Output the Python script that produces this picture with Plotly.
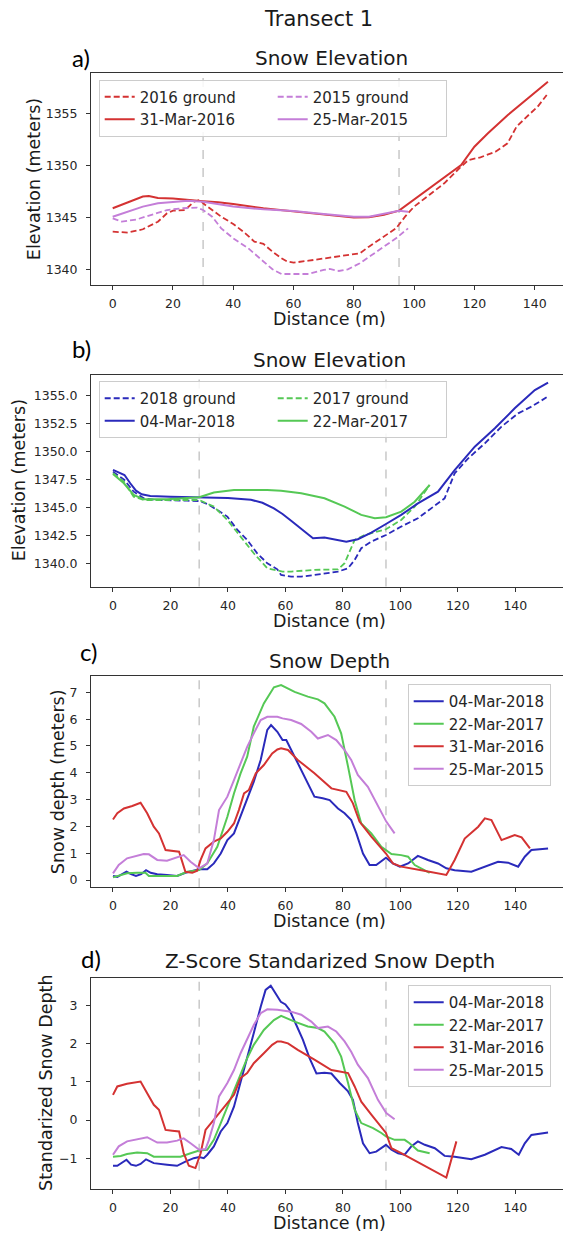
import plotly.graph_objects as go

# ---------------- Panel a: snow / ground elevation, 2016 & 2015 ----------------
ground16_x = [0, 5, 10, 15, 18, 20, 24, 27, 29, 30, 33, 36, 40, 44, 47, 50, 53, 56, 58, 60, 65, 70, 75, 80, 82,
              85, 90, 94, 97, 100, 105, 110, 115, 118, 122, 127, 131, 134, 138, 141, 144]
ground16_y = [1343.62, 1343.53, 1343.85, 1344.58, 1345.38, 1345.64, 1345.70, 1346.50, 1346.67, 1346.35, 1345.70,
              1345.06, 1344.36, 1343.46, 1342.66, 1342.44, 1341.70, 1341.06, 1340.74, 1340.64, 1340.83, 1341.06,
              1341.28, 1341.47, 1341.54, 1342.18, 1343.14, 1343.94, 1345.06, 1346.03, 1347.15, 1348.27, 1349.71,
              1350.51, 1350.77, 1351.31, 1352.12, 1353.72, 1354.84, 1355.64, 1356.76]

ground15_x = [0, 3, 8, 13, 18, 23, 28, 30, 33, 36, 40, 45, 50, 53, 56, 60, 65, 70, 72, 75, 78, 82, 86, 90, 94, 98]
ground15_y = [1344.90, 1344.58, 1344.80, 1345.22, 1345.70, 1345.87, 1345.93, 1345.70, 1345.06, 1343.94, 1342.98,
              1342.02, 1340.74, 1340.00, 1339.55, 1339.52, 1339.55, 1339.94, 1340.03, 1339.84, 1340.00, 1340.58,
              1341.38, 1342.18, 1342.98, 1343.94]

snow16_x = [0, 5, 10, 12, 15, 20, 25, 30, 35, 40, 50, 60, 70, 80, 85, 90, 95, 100.1, 105.6, 111.2, 115.6, 120,
            124.5, 131.1, 140.1, 144.4]
snow16_y = [1345.87, 1346.45, 1347.00, 1347.05, 1346.85, 1346.80, 1346.65, 1346.55, 1346.44, 1346.28, 1345.87,
            1345.55, 1345.30, 1344.97, 1345.00, 1345.25, 1345.64, 1346.73, 1347.95, 1349.07, 1350.03, 1351.79,
            1353.08, 1354.84, 1356.99, 1358.04]

snow15_x = [0, 5, 10, 15, 20, 25, 30, 35, 40, 50, 60, 70, 80, 85, 90, 95, 98]
snow15_y = [1345.06, 1345.54, 1346.03, 1346.35, 1346.50, 1346.60, 1346.50, 1346.25, 1346.03, 1345.77, 1345.61,
            1345.32, 1345.06, 1345.06, 1345.32, 1345.64, 1345.54]

# ---------------- Panel b: snow / ground elevation, 2018 & 2017 ----------------
ground18_x = [0, 4, 7.2, 10.7, 15.4, 20, 25.8, 30, 32.8, 36.3, 39.8, 43.3, 46.7, 50.2, 53.7, 57.2, 58.5, 62, 65.5,
              70.1, 74.8, 78.3, 81.8, 84.1, 86.4, 89.9, 95, 100.3, 106.1, 112, 115.4, 118.9, 123.6, 129.4, 135.2,
              141, 145.6, 150.9]
ground18_y = [1348.23, 1347.48, 1346.44, 1345.85, 1345.70, 1345.70, 1345.64, 1345.61, 1345.35, 1344.81, 1344.22,
              1343.03, 1342.14, 1340.95, 1340.06, 1339.52, 1339.02, 1338.87, 1338.87, 1339.02, 1339.23, 1339.32,
              1339.61, 1340.36, 1341.40, 1341.99, 1342.58, 1343.33, 1344.07, 1345.20, 1345.85, 1348.08, 1349.41,
              1350.75, 1352.24, 1353.42, 1354.02, 1354.85]

ground17_x = [0, 3.8, 7.2, 10.7, 18.8, 30, 35.1, 39.8, 44.4, 49, 53.7, 59, 62, 70.1, 78.3, 80.6, 84.1, 87.6, 95,
              100.3, 105, 110.2]
ground17_y = [1348.08, 1347.34, 1346.00, 1345.70, 1345.70, 1345.70, 1345.11, 1343.92, 1342.44, 1340.95, 1339.61,
              1339.32, 1339.32, 1339.47, 1339.52, 1340.06, 1342.14, 1342.58, 1343.09, 1343.92, 1345.11, 1347.04]

snow18_x = [0, 2, 4, 6, 8, 10, 13, 20, 30, 40, 48, 52, 56, 59, 62, 65.5, 69.6, 73.6, 77.1, 81.2, 85.2, 89.9, 95,
            100.3, 106.1, 113.1, 118.9, 125.9, 132.9, 139.8, 146.8, 151.4]
snow18_y = [1348.38, 1348.14, 1347.93, 1347.19, 1346.53, 1346.21, 1346.06, 1346.00, 1345.94, 1345.88, 1345.72,
            1345.45, 1344.95, 1344.45, 1343.85, 1343.10, 1342.29, 1342.35, 1342.20, 1341.99, 1342.20, 1342.79,
            1343.56, 1344.37, 1345.40, 1346.44, 1348.37, 1350.45, 1352.09, 1353.87, 1355.50, 1356.16]

snow17_x = [0, 3.8, 7.2, 10.7, 18.8, 30, 35.1, 42.1, 53.7, 58.5, 65.5, 73.6, 80.6, 86.4, 91.1, 95, 100.3, 105,
            110.2]
snow17_y = [1348.02, 1347.19, 1346.15, 1345.76, 1345.76, 1345.94, 1346.36, 1346.59, 1346.59, 1346.53, 1346.30,
            1345.85, 1345.11, 1344.37, 1344.07, 1344.16, 1344.66, 1345.55, 1347.04]

# ---------------- Panel c: snow depth ----------------
depth18_x = [0, 1.5, 3.2, 4.7, 6.3, 8, 9.8, 11.5, 13.1, 15.4, 18.8, 22.3, 25.2, 28.1, 30, 32.8, 35.1, 37.5, 39.8,
             42.1, 44.4, 46.7, 49, 51.4, 53.7, 55, 57.2, 59, 60.3, 63.2, 66.7, 70.1, 73, 75.4, 78.3, 80.6, 82.9,
             84.7, 87, 89.3, 91.6, 95, 97.4, 99.8, 102.7, 106.1, 109.6, 113.1, 116, 118.9, 124.7, 129.4, 134,
             137.5, 141, 143.3, 145.6, 151.4]
depth18_y = [0.15, 0.12, 0.22, 0.31, 0.22, 0.15, 0.22, 0.37, 0.27, 0.22, 0.19, 0.15, 0.27, 0.35, 0.40, 0.40, 0.62,
             0.99, 1.49, 1.74, 2.36, 2.98, 3.67, 4.48, 5.60, 5.78, 5.53, 5.22, 5.22, 4.60, 3.85, 3.11, 3.05, 2.98,
             2.67, 2.49, 2.24, 1.74, 0.99, 0.56, 0.56, 0.83, 0.62, 0.50, 0.62, 0.90, 0.75, 0.62, 0.44, 0.37, 0.31,
             0.50, 0.68, 0.65, 0.50, 0.87, 1.12, 1.18]

depth17_x = [0, 2.7, 4.9, 8.4, 11.3, 12.5, 18.8, 22.3, 25.8, 30, 32.8, 36.3, 39.8, 42.1, 44.4, 46.7, 49, 52.5, 56,
             58.5, 63.2, 67.8, 71.3, 73.6, 77.1, 79.4, 81.8, 84.1, 86.4, 89.9, 93.4, 96.9, 100.3, 102.7, 105,
             108.5, 110.2]
depth17_y = [0.10, 0.19, 0.25, 0.27, 0.27, 0.15, 0.15, 0.15, 0.31, 0.37, 0.62, 1.24, 2.36, 3.23, 3.98, 4.60, 5.72,
             6.59, 7.19, 7.27, 7.02, 6.84, 6.74, 6.59, 6.09, 5.47, 4.23, 2.98, 2.11, 1.74, 1.24, 0.97, 0.93, 0.87,
             0.56, 0.35, 0.27]

depth16_x = [0, 1.5, 3.8, 6.7, 9.6, 11.9, 14.2, 16, 18.3, 20.6, 23, 25.2, 27.6, 29.3, 30.5, 32.2, 35.1, 37.5,
             39.8, 42.1, 43.8, 45.6, 47.3, 49.7, 52.5, 55.4, 57.2, 58.5, 60.9, 64.3, 70.1, 76, 78.9, 81.2, 83.5,
             85.8, 89.9, 95, 97.4, 100.3, 107.3, 116, 118.9, 122.4, 127.1, 129.4, 131.7, 135.2, 139.8, 142.2,
             145.1]
depth16_y = [2.26, 2.49, 2.67, 2.76, 2.88, 2.49, 1.99, 1.74, 1.12, 1.09, 1.06, 0.31, 0.27, 0.35, 0.75, 1.18, 1.43,
             1.55, 1.80, 2.11, 2.61, 3.23, 3.36, 3.98, 4.29, 4.72, 4.87, 4.91, 4.85, 4.48, 3.98, 3.42, 3.36, 3.29,
             2.86, 2.18, 1.62, 0.99, 0.62, 0.50, 0.37, 0.19, 0.75, 1.55, 1.99, 2.30, 2.24, 1.49, 1.68, 1.59, 1.18]

depth15_x = [0, 2, 4.9, 8.4, 10.7, 12.5, 15.4, 18.8, 22.3, 24.6, 27, 30, 32.8, 35.1, 36.9, 39.8, 42.1, 44.4,
             46.7, 49, 51.4, 53.7, 57.2, 59, 62, 65.5, 69, 71.3, 74.8, 77.7, 80.6, 82.9, 85.2, 88.7, 92.2, 95.1, 98]
depth15_y = [0.25, 0.56, 0.81, 0.90, 0.97, 0.96, 0.75, 0.72, 0.85, 0.93, 0.68, 0.44, 0.62, 1.49, 2.61, 3.11, 3.73,
             4.35, 4.97, 5.47, 5.97, 6.09, 6.09, 6.03, 5.97, 5.82, 5.53, 5.28, 5.41, 5.22, 4.85, 4.48, 3.92, 3.48,
             2.74, 2.18, 1.74]

# ---------------- Panel d: z-score standardized snow depth ----------------
z18_x = [0, 1.5, 4.7, 6.3, 8, 9.6, 11.5, 14.2, 18.8, 22.3, 25.2, 28.1, 30, 31.6, 32.8, 35.1, 37.5, 39.8, 42.1,
         44.4, 46.7, 49, 51.4, 53.1, 54.9, 56.6, 58.4, 60, 61.4, 63.8, 66.1, 68.4, 70.8, 73.6, 76, 78.9, 81.8, 83.5,
         85.2, 87, 89.3, 91.6, 93.4, 95, 96.9, 99.2, 101.5, 103.8, 106.1, 108.5, 112, 115.4, 118.9, 124.7, 129.4,
         135.2, 138.6, 141.2, 143.3, 145.6, 151.4]
z18_y = [-1.20, -1.20, -1.04, -1.17, -1.20, -1.15, -1.03, -1.13, -1.17, -1.20, -1.09, -1.00, -0.97, -1.00, -0.91,
         -0.69, -0.30, -0.08, 0.35, 0.97, 1.66, 2.28, 2.97, 3.41, 3.52, 3.32, 3.10, 3.03, 2.89, 2.49, 2.10, 1.62,
         1.22, 1.24, 1.22, 0.97, 0.75, 0.53, -0.08, -0.61, -0.87, -0.83, -0.74, -0.65, -0.78, -0.87, -0.91,
         -0.69, -0.56, -0.65, -0.74, -0.94, -0.96, -1.03, -0.91, -0.71, -0.76, -0.91, -0.61, -0.39, -0.33]

z17_x = [0, 2.7, 4.9, 8.4, 11.9, 14.2, 18.8, 23.5, 27, 30, 32.8, 35.1, 37.5, 39.8, 42.1, 44.4, 46.7, 49, 52.5, 56,
         58.5, 63.2, 67.8, 71.3, 73.6, 77.1, 79.4, 81.8, 84.1, 86.4, 90.5, 93.4, 95, 98, 101.5, 103.2, 106.1, 110.2]
z17_y = [-0.96, -0.94, -0.89, -0.85, -0.87, -0.96, -0.96, -0.96, -0.87, -0.80, -0.78, -0.52, -0.08, 0.35, 0.79,
         1.23, 1.62, 1.97, 2.36, 2.62, 2.73, 2.58, 2.45, 2.41, 2.32, 2.01, 1.66, 0.97, 0.27, -0.08, -0.21, -0.34,
         -0.43, -0.52, -0.52, -0.61, -0.80, -0.87]

z16_x = [0, 1.5, 4.9, 9.6, 11.9, 14.2, 16, 18.3, 20.6, 23, 24.6, 26.4, 28.7, 30.5, 32.2, 35.1, 37.5, 39.8, 42.1,
         44.4, 46.7, 49, 52.5, 55.4, 57.2, 58.5, 60.9, 64.3, 70.1, 76, 78.9, 81.8, 84.1, 86.4, 89.9, 95, 96.9,
         100.3, 116, 119.5]
z16_y = [0.66, 0.88, 0.95, 1.01, 0.70, 0.40, 0.27, -0.26, -0.28, -0.30, -0.87, -1.20, -1.26, -0.87, -0.26, 0.00,
         0.22, 0.44, 0.66, 1.10, 1.23, 1.49, 1.75, 1.97, 2.06, 2.06, 2.01, 1.84, 1.58, 1.31, 1.27, 1.23, 0.88, 0.48,
         0.14, -0.34, -0.74, -0.87, -1.51, -0.56]

z15_x = [0, 2, 4.9, 8.4, 11.9, 15.4, 18.8, 22.3, 24.6, 27, 30, 32.2, 33.4, 35.1, 36.9, 39.8, 42.1, 44.4, 46.7, 49,
         51.4, 53.7, 57.2, 59, 62, 65.5, 69, 71.3, 74.8, 77.7, 80.6, 82.9, 85.2, 88.7, 92.2, 95.1, 98]
z15_y = [-0.91, -0.69, -0.56, -0.50, -0.45, -0.59, -0.59, -0.54, -0.48, -0.61, -0.78, -0.76, -0.52, -0.08, 0.62,
         0.97, 1.31, 1.75, 2.14, 2.49, 2.80, 2.90, 2.89, 2.87, 2.84, 2.76, 2.58, 2.41, 2.45, 2.32, 2.06, 1.79, 1.45,
         1.10, 0.53, 0.18, 0.02]

# channel boundaries marked on every panel
boundary_x = [30, 95]

# ---------------- styling ----------------
RED = "#d43232"
VIOLET = "#c47ed8"
BLUE = "#2a2abb"
GREEN = "#55c855"
FONT = "DejaVu Sans"
LABEL_FONT = "Lato"
W, H = 563, 1233
ML = 91  # left margin in px
PW = W - ML


def px_x(p):
    return (p - ML) / PW


def px_y(p):
    return 1 - p / H


# vertical extent of each panel, px from top
panel_px = [(73.3, 285.0), (375.0, 586.5), (676.0, 887.3), (977.7, 1188.7)]
x_ranges = [[-7.2, 149.4], [-7.65, 156.6], [-7.65, 156.6], [-7.65, 156.6]]
y_ranges = [[1338.49, 1358.85], [1337.99, 1356.84], [-0.27, 7.61], [-1.80, 3.73]]

fig = go.Figure()


def add_line(x, y, name, color, dash, idx, legend):
    fig.add_trace(go.Scatter(
        x=x, y=y, mode="lines", name=name,
        line=dict(color=color, width=2 if dash == "solid" else 1.8, dash=dash),
        xaxis="x" if idx == 1 else f"x{idx}", yaxis="y" if idx == 1 else f"y{idx}",
        legend=legend,
    ))


DASH = "6px,3px"
# panel a (legend rows: ground, ground / snow, snow)
add_line(ground16_x, ground16_y, "2016 ground", RED, DASH, 1, "legend")
add_line(ground15_x, ground15_y, "2015 ground", VIOLET, DASH, 1, "legend")
add_line(snow16_x, snow16_y, "31-Mar-2016", RED, "solid", 1, "legend")
add_line(snow15_x, snow15_y, "25-Mar-2015", VIOLET, "solid", 1, "legend")
# panel b
add_line(ground18_x, ground18_y, "2018 ground", BLUE, DASH, 2, "legend2")
add_line(ground17_x, ground17_y, "2017 ground", GREEN, DASH, 2, "legend2")
add_line(snow18_x, snow18_y, "04-Mar-2018", BLUE, "solid", 2, "legend2")
add_line(snow17_x, snow17_y, "22-Mar-2017", GREEN, "solid", 2, "legend2")
# panel c
add_line(depth18_x, depth18_y, "04-Mar-2018", BLUE, "solid", 3, "legend3")
add_line(depth17_x, depth17_y, "22-Mar-2017", GREEN, "solid", 3, "legend3")
add_line(depth16_x, depth16_y, "31-Mar-2016", RED, "solid", 3, "legend3")
add_line(depth15_x, depth15_y, "25-Mar-2015", VIOLET, "solid", 3, "legend3")
# panel d
add_line(z18_x, z18_y, "04-Mar-2018", BLUE, "solid", 4, "legend4")
add_line(z17_x, z17_y, "22-Mar-2017", GREEN, "solid", 4, "legend4")
add_line(z16_x, z16_y, "31-Mar-2016", RED, "solid", 4, "legend4")
add_line(z15_x, z15_y, "25-Mar-2015", VIOLET, "solid", 4, "legend4")

axis_common = dict(
    showgrid=False, zeroline=False, showline=True, linecolor="#333333", linewidth=1,
    ticks="outside", ticklen=4, tickwidth=1, tickcolor="#333333",
    tickfont=dict(family=FONT, size=12.5, color="#262626"),
)

layout = dict(
    width=W, height=H, margin=dict(l=ML, r=0, t=0, b=0),
    plot_bgcolor="white", paper_bgcolor="white", showlegend=True,
)

y_tick_settings = [
    dict(tick0=1340, dtick=5),
    dict(tick0=1340, dtick=2.5, tickformat=".1f"),
    dict(tick0=0, dtick=1),
    dict(tick0=-1, dtick=1),
]

for i in range(4):
    top, bot = panel_px[i]
    sx = "" if i == 0 else str(i + 1)
    layout[f"xaxis{sx}"] = dict(axis_common, domain=[0, 1], range=x_ranges[i], tick0=0, dtick=20,
                                mirror=True, anchor=f"y{sx}", ticklabelstandoff=3)
    layout[f"yaxis{sx}"] = dict(axis_common, domain=[px_y(bot), px_y(top)], range=y_ranges[i],
                                anchor=f"x{sx}", ticklabelstandoff=6, **y_tick_settings[i])

legend_common = dict(
    bgcolor="rgba(255,255,255,0.85)", bordercolor="#cccccc", borderwidth=1,
    font=dict(family=FONT, size=15, color="#262626"), xanchor="left", yanchor="top",
)
layout["legend"] = dict(legend_common, orientation="h", entrywidth=128, entrywidthmode="pixels",
                        x=px_x(98.7), y=px_y(79.5))
layout["legend2"] = dict(legend_common, orientation="h", entrywidth=128, entrywidthmode="pixels",
                         x=px_x(98.7), y=px_y(381))
layout["legend3"] = dict(legend_common, orientation="v", x=px_x(407.7), y=px_y(684))
layout["legend4"] = dict(legend_common, orientation="v", x=px_x(407.7), y=px_y(985))

fig.update_layout(**layout)

# dashed boundary markers
for i in range(4):
    sx = "" if i == 0 else str(i + 1)
    for bx in boundary_x:
        fig.add_shape(type="line", xref=f"x{sx}", yref=f"y{sx} domain", x0=bx, x1=bx, y0=0, y1=1,
                      line=dict(color="#c8c8c8", width=1.5, dash="dash"), layer="below")


def note(text, xp, yp, size, family=FONT, angle=0, color="#1a1a1a"):
    fig.add_annotation(text=text, x=px_x(xp), y=px_y(yp), xref="paper", yref="paper",
                       showarrow=False, xanchor="center", yanchor="middle", textangle=angle,
                       font=dict(family=family, size=size, color=color))


note("Transect 1", 318, 19, 21)

titles = ["Snow Elevation", "Snow Elevation", "Snow Depth", "Z-Score Standarized Snow Depth"]
title_y = [58, 360, 661, 961]
title_x = [331, 329.6, 329.6, 329.6]
for t, xp, yp in zip(titles, title_x, title_y):
    note(t, xp, yp, 20)

panel_tags = ["a)", "b)", "c)", "d)"]
tag_pos = [(81, 57.5), (81.5, 348.5), (88.5, 651.7), (91, 958)]
for t, (xp, yp) in zip(panel_tags, tag_pos):
    note(t, xp, yp, 24, family=LABEL_FONT, color="black")

for i in range(4):
    note("Distance (m)", 329, panel_px[i][1] + 34, 17.5)

y_titles = ["Elevation (meters)", "Elevation (meters)", "Snow depth (meters)", "Standarized Snow Depth"]
y_title_x = [34, 18.5, 57.5, 45.7]
for i, (t, xp) in enumerate(zip(y_titles, y_title_x)):
    top, bot = panel_px[i]
    note(t, xp, (top + bot) / 2, 17.5, angle=-90)

fig.write_html("out.html", config={"displayModeBar": False})
